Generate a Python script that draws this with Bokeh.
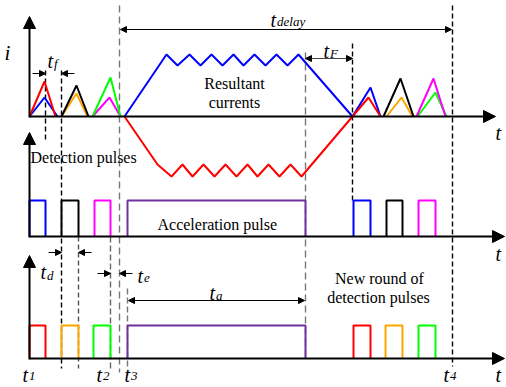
from bokeh.plotting import figure
from bokeh.models import Range1d, Arrow, NormalHead
from bokeh.core.properties import value
from bokeh.embed import file_html
from bokeh.resources import INLINE

W, H = 506, 387
SERIF = value("Liberation Serif")

# ---- panel baselines (screen-like units, y grows downward) ----
BASE_I, BASE_DET, BASE_ACC = 116, 236, 358

# ---- top panel: detection current triangles (x points, heights) ----
tri_left = [
    ("#0000FF", [29, 44, 57], [0, 19, 0]),
    ("#FF0000", [29, 44, 55], [0, 35, 0]),
    ("#FFA500", [61, 76, 87], [0, 23, 0]),
    ("#000000", [61, 76, 88], [0, 31, 0]),
    ("#FF00FF", [92, 109, 120], [0, 19, 0]),
    ("#00FF00", [92, 110, 120], [0, 39, 0]),
]
tri_right = [
    ("#FFA500", [386, 401, 412], [0, 19, 0]),
    ("#000000", [383, 400, 413], [0, 38, 0]),
    ("#00FF00", [417, 435, 446], [0, 24, 0]),
    ("#FF00FF", [416, 433, 445], [0, 38, 0]),
]
# resultant currents (trapezoids with ripple, continuing into next detection)
blue_x = [124, 166, 177, 189, 200, 211, 222, 233, 243, 254, 265, 276, 287, 298, 352, 370, 380]
blue_h = [0, 62, 51, 62, 51, 62, 51, 62, 51, 62, 51, 62, 51, 62, 0, 29, 0]
red_x = [124, 157, 171, 182, 192, 203, 214, 225, 236, 247, 257, 268, 279, 290, 301, 352, 368, 380]
red_h = [0, -48, -60, -48, -60, -48, -60, -48, -60, -48, -60, -48, -60, -48, -60, 0, 19, 0]

# ---- pulses: (color, start, end) ----
det_pulses = [("#0000FF", 29, 45), ("#000000", 61, 78), ("#FF00FF", 94, 110),
              ("#7030A0", 127, 305),
              ("#0000FF", 353, 370), ("#000000", 386, 402), ("#FF00FF", 418, 435)]
acc_pulses = [("#FF0000", 29, 45), ("#FFA500", 61, 78), ("#00FF00", 93, 110),
              ("#7030A0", 127, 305),
              ("#FF0000", 353, 370), ("#FFA500", 385, 402), ("#00FF00", 418, 435)]
DET_H, ACC_H = 36, 33

# ---- dashed markers: (x, y_top, y_bottom, color, dash) ----
markers = [
    (45, 70, 140, "#000000", "5 3"),
    (61, 70, 368, "#000000", "5 3"),
    (78, 236, 368, "#555555", "5 3"),
    (110, 236, 368, "#666666", "6 3"),
    (119, 5, 372, "#777777", "7 4"),
    (127, 288, 377, "#777777", "6 3"),
    (305, 52, 360, "#777777", "7 4"),
    (352, 43, 200, "#000000", "5 3"),
    (452, 5, 366, "#000000", "5 3"),
]

p = figure(width=W, height=H, x_range=Range1d(0, W), y_range=Range1d(H, 0),
           output_backend="svg", toolbar_location=None, min_border=0)
p.axis.visible = False
p.grid.visible = False
p.outline_line_color = None
p.background_fill_color = "white"

# dashed guides
for x, y0, y1, c, d in markers:
    p.line([x, x], [y0, y1], line_color=c, line_width=1.4, line_dash=d)

# axes with arrowheads
def axis_arrow(x0, y0, x1, y1):
    p.add_layout(Arrow(end=NormalHead(size=12, fill_color="black", line_color="black"),
                       x_start=x0, y_start=y0, x_end=x1, y_end=y1,
                       line_width=2, line_color="black"))

axis_arrow(29, BASE_I, 495, BASE_I)
axis_arrow(29, BASE_I + 1, 29, 16)
axis_arrow(29, BASE_DET, 504, BASE_DET)
axis_arrow(29, BASE_DET + 1, 29, 132)
axis_arrow(29, BASE_ACC, 504, BASE_ACC)
axis_arrow(29, BASE_ACC + 1, 29, 255)

# currents
for c, xs, hs in tri_left + tri_right:
    p.line(xs, [BASE_I - h for h in hs], line_color=c, line_width=2)
p.line(blue_x, [BASE_I - h for h in blue_h], line_color="#0000FF", line_width=2)
p.line(red_x, [BASE_I - h for h in red_h], line_color="#FF0000", line_width=2)

# pulses
for base, hgt, pulses in ((BASE_DET, DET_H, det_pulses), (BASE_ACC, ACC_H, acc_pulses)):
    for c, a, b in pulses:
        p.line([a, a, b, b], [base, base - hgt, base - hgt, base], line_color=c, line_width=2)

# dimension arrows
def head():
    return NormalHead(size=6, fill_color="black", line_color="black")

def dim_both(x0, x1, y, color="black"):
    p.add_layout(Arrow(start=head(), end=head(), x_start=x0, y_start=y, x_end=x1, y_end=y,
                       line_width=1.2, line_color=color))

def dim_out(xa, xb, y, ext):
    p.add_layout(Arrow(end=head(), x_start=xa - ext, y_start=y, x_end=xa, y_end=y,
                       line_width=1.2, line_color="black"))
    p.add_layout(Arrow(end=head(), x_start=xb + ext, y_start=y, x_end=xb, y_end=y,
                       line_width=1.2, line_color="black"))

dim_both(120, 451, 29)
dim_both(305, 352, 58, "#444444")
dim_both(128, 304, 300)
dim_out(45, 61, 73, 13)
dim_out(61, 78, 252, 13)
dim_out(110, 119, 273, 13)

# labels
def tlabel(x, y, sub, size=20, subsize=13, dy=3, dx=None):
    p.text([x], [y], text=["t"], text_font=SERIF, text_font_style="italic",
           text_font_size=f"{size}px", text_baseline="alphabetic", text_color="black")
    p.text([x + (dx if dx is not None else 6.5)], [y + dy], text=[sub], text_font=SERIF,
           text_font_style="italic", text_font_size=f"{subsize}px",
           text_baseline="alphabetic", text_color="black")

p.text([4], [52], text=["i"], text_font=SERIF, text_font_style="italic",
       text_font_size="21px", text_baseline="alphabetic")
for ty in (132, 253, 374):
    p.text([495], [ty], text=["t"], text_font=SERIF, text_font_style="italic",
           text_font_size="20px", text_baseline="alphabetic")

tlabel(47, 60, "f", dy=3)
tlabel(270, 19, "delay", dy=2)
tlabel(323, 50, "F", dy=3)
tlabel(40, 271, "d", dy=4)
tlabel(137, 275, "e", dy=2)
tlabel(209, 292, "a", dy=3)
tlabel(22, 374, "1", dy=1)
tlabel(96, 374, "2", dy=1)
tlabel(124, 374, "3", dy=1)
tlabel(443, 374, "4", dy=1)

def plain(x, y, s, align="left"):
    p.text([x], [y], text=[s], text_font=SERIF, text_font_size="16px",
           text_baseline="alphabetic", text_align=align, text_color="black")

plain(234, 83, "Resultant", "center")
plain(234, 102, "currents", "center")
plain(30, 157, "Detection pulses")
plain(157, 224, "Acceleration pulse")
plain(379, 278, "New round of", "center")
plain(378, 297, "detection pulses", "center")

open("out.html", "w").write(file_html(p, INLINE))
